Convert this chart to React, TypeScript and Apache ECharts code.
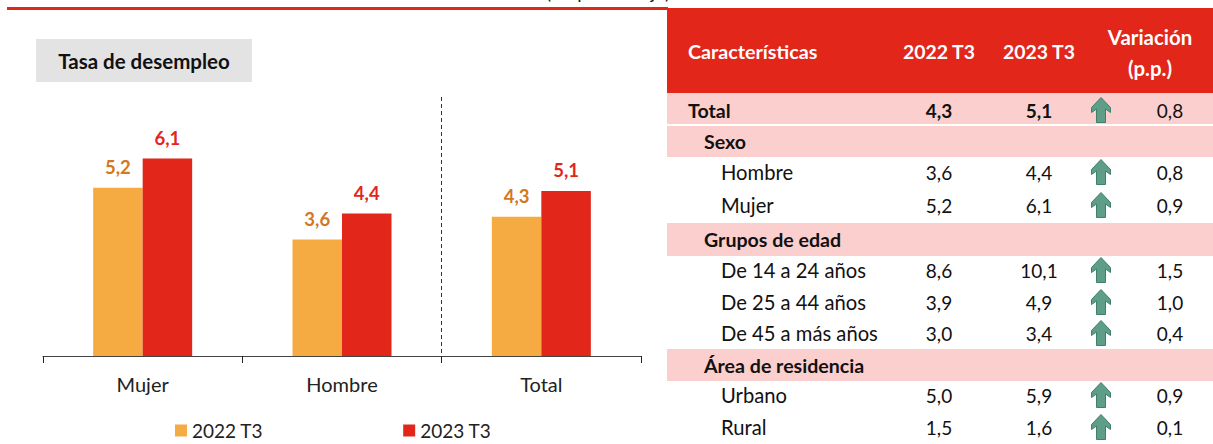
import React, { useEffect, useRef } from "react";
import * as echarts from "echarts";

const categories = ["Mujer", "Hombre", "Total"];
const serie2022 = [5.2, 3.6, 4.3];
const serie2023 = [6.1, 4.4, 5.1];
const seriesNames = ["2022 T3", "2023 T3"];
const chartTitle = "Tasa de desempleo";
const clippedNote = "(En porcentaje)";

const headerLabels = ["Características", "2022 T3", "2023 T3"];
const headerVariation = ["Variación", "(p.p.)"];

const rowLabels = ["Total", "Sexo", "Hombre", "Mujer", "Grupos de edad", "De 14 a 24 años", "De 25 a 44 años", "De 45 a más años", "Área de residencia", "Urbano", "Rural"];
const rowLevels = [0, 1, 2, 2, 1, 2, 2, 2, 1, 2, 2];
const rowY2022 = ["4,3", "", "3,6", "5,2", "", "8,6", "3,9", "3,0", "", "5,0", "1,5"];
const rowY2023 = ["5,1", "", "4,4", "6,1", "", "10,1", "4,9", "3,4", "", "5,9", "1,6"];
const rowVar = ["0,8", "", "0,8", "0,9", "", "1,5", "1,0", "0,4", "", "0,9", "0,1"];
const rowCenters = [110, 141, 172, 205, 239, 270, 302, 333, 365, 395, 427];
const bands = [[93, 124], [126, 157], [223, 256], [349, 381]];

const RED = "#E2261A";
const ORANGE = "#F6AB42";
const FONT = "Lato";

echarts.graphic.registerShape(
  "upArrow",
  echarts.graphic.extendPath("M10 0 L19.5 10 L19.5 15 L14.5 11.5 L14.5 25 L5.5 25 L5.5 11.5 L0.5 15 L0.5 10 Z", {})
);

function txt(x: number, y: number, text: string, size: number, bold: boolean, fill: string, align = "center") {
  return {
    type: "text",
    x,
    y,
    style: { text, fontFamily: FONT, fontSize: size, fontWeight: bold ? "bold" : "normal", fill, align, verticalAlign: "middle" },
  };
}

function buildGraphic() {
  const els: any[] = [];
  els.push({ type: "rect", shape: { x: 7, y: 7, width: 661, height: 3 }, style: { fill: RED } });
  els.push(txt(608, -9, clippedNote, 19, false, "#222"));
  els.push({ type: "rect", shape: { x: 667, y: 8, width: 546, height: 85 }, style: { fill: RED } });
  els.push({ type: "rect", shape: { x: 36, y: 39, width: 216, height: 43 }, style: { fill: "#E3E3E3" } });
  els.push(txt(144, 61, chartTitle, 20.5, true, "#111"));
  els.push({ type: "line", shape: { x1: 441.5, y1: 97, x2: 441.5, y2: 355 }, style: { stroke: "#333", lineWidth: 1, lineDash: [4, 3] } });

  els.push(txt(688, 51, headerLabels[0], 19.7, true, "#fff", "left"));
  els.push(txt(939, 51, headerLabels[1], 19.4, true, "#fff"));
  els.push(txt(1039, 51, headerLabels[2], 19.4, true, "#fff"));
  els.push(txt(1150, 37, headerVariation[0], 20.4, true, "#fff"));
  els.push(txt(1150, 68, headerVariation[1], 20.4, true, "#fff"));

  bands.forEach(([a, b]) => {
    els.push({ type: "rect", shape: { x: 667, y: a, width: 546, height: b - a }, style: { fill: "#FBCFCD" } });
  });

  rowLabels.forEach((label, i) => {
    const level = rowLevels[i];
    const y = rowCenters[i];
    const bold = level < 2;
    const x = level === 0 ? 688 : level === 1 ? 704 : 721;
    els.push(txt(x, y, label, bold ? 19.6 : 20.2, bold, "#111", "left"));
    if (rowY2022[i]) {
      const strong = level === 0;
      els.push(txt(939, y, rowY2022[i], 19, strong, "#111"));
      els.push(txt(1039, y, rowY2023[i], 19, strong, "#111"));
      els.push(txt(1170, y, rowVar[i], 19, false, "#111"));
      els.push({ type: "upArrow", x: 1091, y: y - 12.5, style: { fill: "#5F9E86", stroke: "#3F7F6B", lineWidth: 1 } });
    }
  });
  return els;
}

export default function App() {
  const ref = useRef<HTMLDivElement>(null);
  useEffect(() => {
    document.body.style.margin = "0";
    const chart = echarts.init(ref.current!, null, { renderer: "svg" });
    const label = (color: string) => ({
      show: true,
      position: "top" as const,
      distance: 11,
      color,
      fontFamily: FONT,
      fontSize: 18.5,
      fontWeight: "bold" as const,
      formatter: (p: any) => String(p.value).replace(".", ","),
    });
    chart.setOption({
      animation: false,
      backgroundColor: "#fff",
      textStyle: { fontFamily: FONT },
      grid: { left: 43, right: 572, top: 97, bottom: 88 },
      legend: {
        left: 170,
        top: 416,
        itemWidth: 12,
        itemHeight: 12,
        itemGap: 140,
        icon: "rect",
        textStyle: { fontFamily: FONT, fontSize: 19, color: "#222", padding: [0, 0, 0, 0] },
        data: seriesNames,
      },
      xAxis: {
        type: "category",
        data: categories,
        axisLine: { lineStyle: { color: "#444", width: 1 } },
        axisTick: { show: true, length: 7, lineStyle: { color: "#222" } },
        axisLabel: { color: "#222", fontFamily: FONT, fontSize: 20, margin: 18 },
      },
      yAxis: { type: "value", min: 0, max: 8, show: false },
      series: [
        { name: seriesNames[0], type: "bar", data: serie2022, barWidth: 49.5, barGap: "0%", itemStyle: { color: ORANGE }, label: label("#D4771E") },
        { name: seriesNames[1], type: "bar", data: serie2023, barWidth: 49.5, barGap: "0%", itemStyle: { color: RED }, label: label(RED) },
      ],
      graphic: { elements: buildGraphic() },
    });
    return () => chart.dispose();
  }, []);
  return <div ref={ref} style={{ position: "fixed", left: 0, top: 0, width: 1213, height: 444 }} />;
}
